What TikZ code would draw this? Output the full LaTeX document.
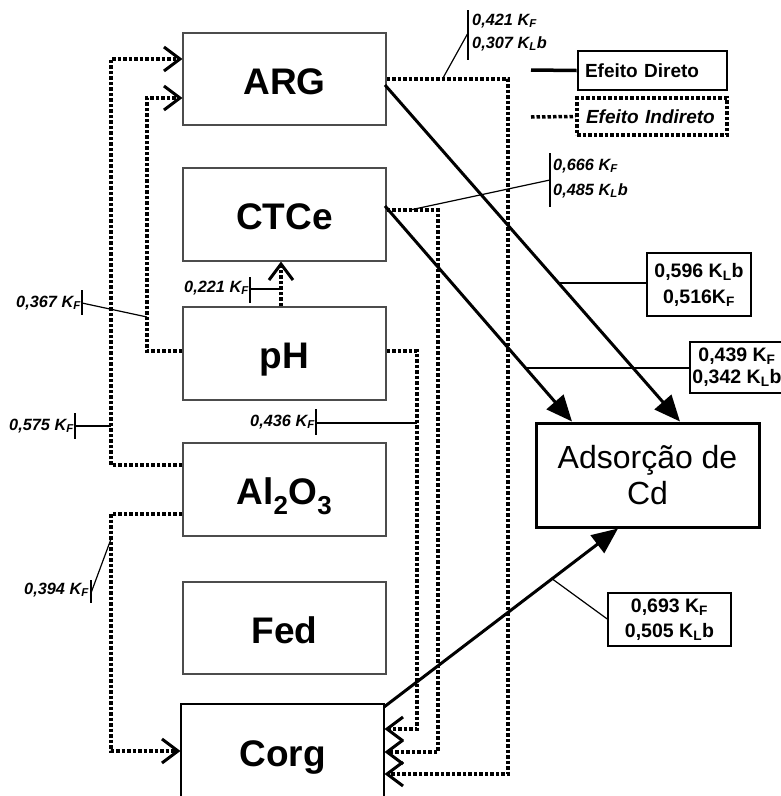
\documentclass[tikz,border=0pt]{standalone}
\usepackage{fontspec}
\setmainfont{Liberation Sans}
\usetikzlibrary{arrows.meta,calc}
\begin{document}
\begin{tikzpicture}[x=1pt,y=-1pt,
 box/.style={draw=black!70, line width=1.1pt, minimum width=203pt, minimum height=92pt, inner sep=0pt, text height=30pt, text depth=0pt, font=\fontsize{37}{40}\selectfont\bfseries},
 ind/.style={line width=3.5pt, dash pattern=on 3.5pt off 2pt},
 oarr/.style={-{Straight Barb[length=16pt,width=24pt,line width=3pt]}},
 dir/.style={line width=3pt, -{Triangle[length=26pt,width=22pt]}},
 thin/.style={line width=1.2pt},
 lab/.style={font=\fontsize{16.3}{18}\selectfont\bfseries\itshape, inner sep=0pt},
 lbox/.style={draw, line width=1.5pt, align=center, inner sep=0pt}
]
\useasboundingbox (0,0) rectangle (780,796);

% main boxes
\node[box] (ARG) at (284.5,79) {ARG};
\node[box, minimum height=93pt] (CTCe) at (284.5,214.5) {CTCe};
\node[box, minimum height=93pt] (pH) at (284.5,353.5) {pH};
\node[box, minimum height=93pt] (Al) at (284.5,489.5) {Al\textsubscript{2}O\textsubscript{3}};
\node[box] (Fed) at (284.5,628) {Fed};
\node[box, draw=black, minimum height=94pt] (Corg) at (282.5,751) {Corg};

\node[draw, line width=3pt, minimum width=223pt, minimum height=104pt, inner sep=0pt, align=center, font=\fontsize{32}{36}\selectfont] (Ads) at (647.5,475) {Adsorção de\\Cd};

% legend
\node[draw, line width=2.8pt, text width=149pt, align=left, minimum height=39pt, inner sep=0pt, font=\fontsize{19}{22}\selectfont\bfseries] (ED) at (652.5,70.5) {\hspace*{7pt}Efeito Direto};
\node[draw, ind, text width=150pt, align=left, minimum height=37pt, inner sep=0pt, font=\fontsize{19}{22}\selectfont\bfseries\itshape] (EI) at (652,116.5) {\hspace*{9pt}Efeito Indireto};
\coordinate (edl) at (531,70);
\coordinate (eil) at (531,117);
\draw[line width=3.5pt] (edl) -- (ED.west);
\draw[ind] (eil) -- (EI.west);

% direct effects
\coordinate (argo) at (385,85);
\coordinate (ctco) at (385,206);
\coordinate (corgo) at (384,707);
\draw[dir] (argo) -- (Ads.north -| 680,0);
\draw[dir] (ctco) -- (Ads.north -| 572,0);
\draw[dir] (corgo) -- (Ads.south -| 618,0);

% indirect effects
\draw[ind,oarr] (ARG.east) -- (508,79) -- (508,774) -- (Corg.east |- 0,774);
\draw[ind,oarr] ([yshift=4.5pt]CTCe.east) -- (438,210) -- (438,752) -- (Corg.east |- 0,752);
\draw[ind,oarr] ([yshift=2.5pt]pH.east) -- (417,351) -- (417,729) -- (Corg.east |- 0,729);
\draw[ind,oarr] ([yshift=2.5pt]pH.west) -- (147,351) -- (147,98) -- (ARG.west |- 0,98);
\draw[ind,oarr] ([yshift=24.5pt]Al.west) -- (111,465) -- (111,59) -- (ARG.west |- 0,59);
\draw[ind,oarr] ([yshift=-24.5pt]Al.west) -- (111,514) -- (111,751) -- (Corg.west |- 0,751);
\draw[ind,oarr] (pH.north -| 281,0) -- (CTCe.south -| 281,0);

% coefficient boxes
\node[lbox, minimum width=104pt, minimum height=63pt, font=\fontsize{19.5}{26}\selectfont\bfseries] (lb1) at (699,284.5) {0,596 K\textsubscript{L}b\\0,516K\textsubscript{F}};
\node[lbox, minimum width=94pt, minimum height=51pt, font=\fontsize{19.5}{22}\selectfont\bfseries] (lb2) at (737,367.5) {0,439 K\textsubscript{F}\\0,342 K\textsubscript{L}b};
\node[lbox, minimum width=123pt, minimum height=53pt, font=\fontsize{19.5}{25}\selectfont\bfseries] (lb3) at (669.5,619.5) {0,693 K\textsubscript{F}\\0,505 K\textsubscript{L}b};
\draw[thin] (559,283) -- (lb1.west |- 0,283);
\draw[thin] (527,368) -- (lb2.west |- 0,368);
\draw[thin] (551,578) -- (lb3.west |- 0,619);

% italic coefficient labels
\node[lab, anchor=base west] (l421) at (472,25) {0,421 K\textsubscript{F}};
\node[lab, anchor=base west] (l307) at (472,48) {0,307 K\textsubscript{L}b};
\draw[thin] (468,10) -- (468,60);
\draw[thin] (443,78) -- (468,33);

\node[lab, anchor=base west] (l666) at (553,170) {0,666 K\textsubscript{F}};
\node[lab, anchor=base west] (l485) at (553,195) {0,485 K\textsubscript{L}b};
\draw[thin] (550,153) -- (550,207);
\draw[thin] (410,210) -- (550,180);

\node[lab, anchor=base east] (l221) at (249,292) {0,221 K\textsubscript{F}};
\draw[thin] (250,277) -- (250,303);
\draw[thin] (250,289) -- (281,289);

\node[lab, anchor=base east] (l367) at (81,307) {0,367 K\textsubscript{F}};
\draw[thin] (82,290) -- (82,315);
\draw[thin] (82,303) -- (147,317);

\node[lab, anchor=base east] (l575) at (74,430) {0,575 K\textsubscript{F}};
\draw[thin] (75,413) -- (75,439);
\draw[thin] (75,426) -- (111,426);

\node[lab, anchor=base east] (l436) at (315,426) {0,436 K\textsubscript{F}};
\draw[thin] (316,409) -- (316,435);
\draw[thin] (316,423) -- (417,423);

\node[lab, anchor=base east] (l394) at (89,594) {0,394 K\textsubscript{F}};
\draw[thin] (91,580) -- (91,603);
\draw[thin] (91,593) -- (111,539);
\end{tikzpicture}
\end{document}
